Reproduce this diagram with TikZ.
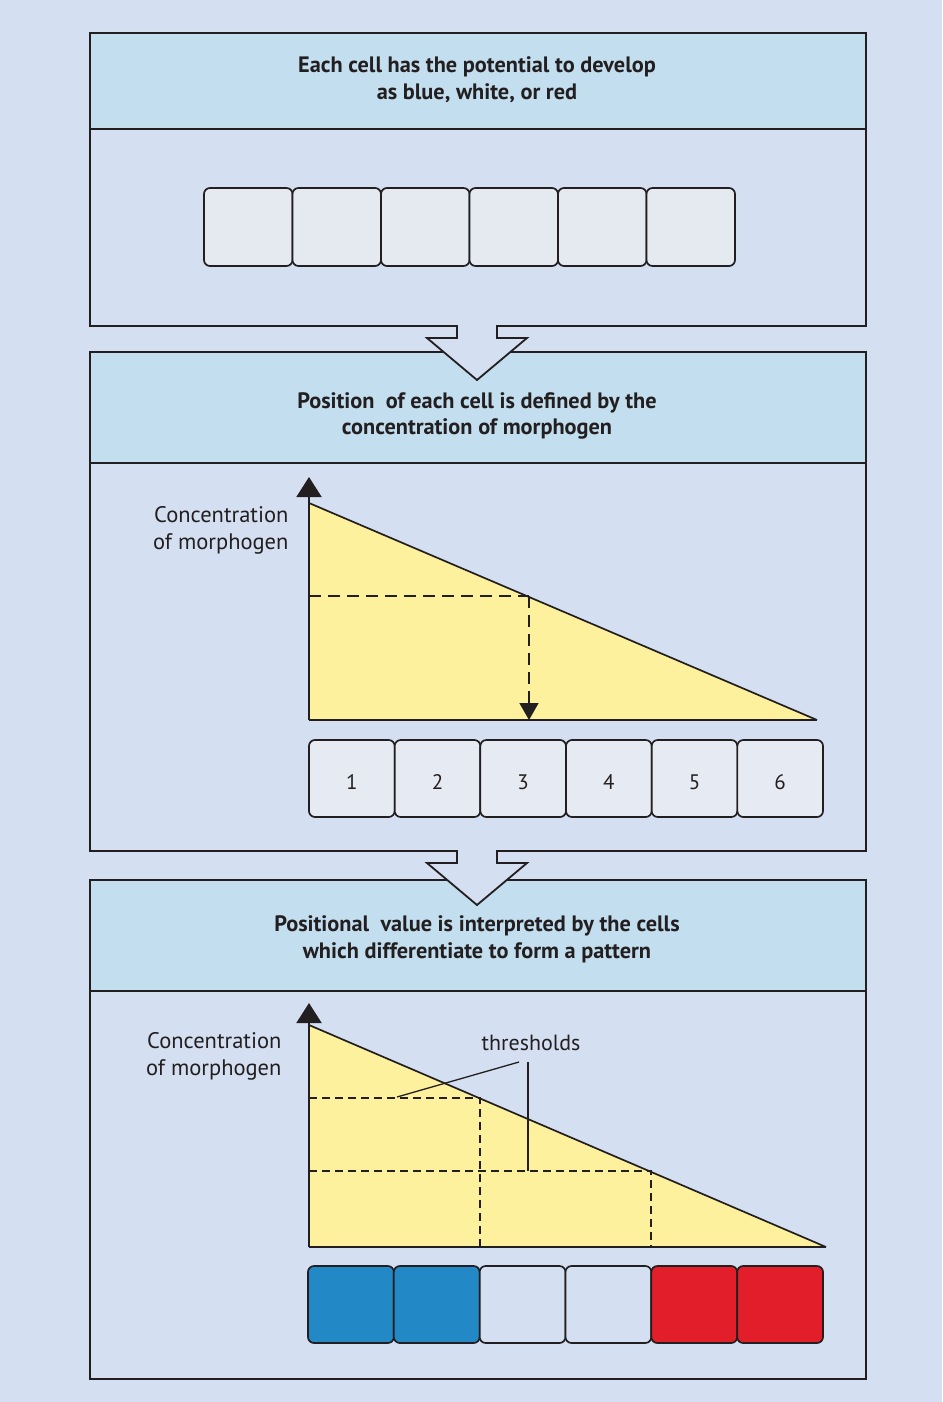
\documentclass[tikz,border=0pt]{standalone}
\usepackage{fontspec}
\setmainfont{PT Sans}
\usetikzlibrary{calc,arrows.meta}
\definecolor{bg}{RGB}{212,224,241}
\definecolor{head}{RGB}{194,222,239}
\definecolor{ink}{RGB}{35,31,32}
\definecolor{cellgray}{RGB}{228,234,239}
\definecolor{cellpale}{RGB}{230,234,242}
\definecolor{morph}{RGB}{253,241,157}
\definecolor{cblue}{RGB}{35,137,198}
\definecolor{cred}{RGB}{227,30,43}
\begin{document}
\begin{tikzpicture}[x=1pt,y=-1pt,
  panel/.style={draw=ink, line width=1.8pt, fill=bg, rectangle, anchor=north west,
    inner sep=0pt, minimum width=776pt},
  header/.style={draw=ink, line width=1.8pt, fill=head, rectangle, anchor=north west,
    inner sep=0pt, minimum width=776pt},
  headtext/.style={align=center, text=ink, font=\fontsize{22.3}{26.5}\selectfont\bfseries},
  cell/.style={draw=ink, line width=1.7pt, rounded corners=6pt, inner sep=0pt},
  numtext/.style={text=ink, font=\fontsize{21}{24}\selectfont},
  ylabel/.style={align=right, anchor=east, text=ink, font=\fontsize{22.5}{27}\selectfont},
  line/.style={draw=ink, line width=1.7pt},
  thin/.style={draw=ink, line width=1.3pt},
  axis/.style={draw=ink, line width=2pt, -{Triangle[width=25pt,length=20pt]}},
  longdash/.style={draw=ink, line width=1.5pt, dash pattern=on 12pt off 7pt},
  shortdash/.style={draw=ink, line width=1.4pt, dash pattern=on 8pt off 5pt},
  flow/.style={draw=ink, line width=1.8pt, line join=miter},
]
\fill[bg] (0,0) rectangle (942,1402);
\useasboundingbox (0,0) rectangle (942,1402);

% ---------- panel 1: undifferentiated cells ----------
\node[panel, minimum height=293pt] (p1) at (89,32) {};
\node[header, minimum height=96pt] (h1) at (89,32) {};
\node[headtext] (t1) at (477,79.5) {Each cell has the potential to develop\\as blue, white, or red};
\foreach \i in {0,...,5}
  \node[cell, fill=cellgray, minimum width=88.5pt, minimum height=78pt] (a\i) at ({248.25+88.5*\i},227) {};

% ---------- panel 2: morphogen gradient ----------
\node[panel, minimum height=499pt] (p2) at (89,351) {};
\node[header, minimum height=111pt] (h2) at (89,351) {};
\node[headtext] (t2) at (477,416) {Position~ of each cell is defined by the\\concentration of morphogen};

% block arrow from panel 1 to panel 2
\coordinate (f1a) at (457,325);
\coordinate (f1b) at (457,338);
\coordinate (f1c) at (427,338);
\coordinate (f1d) at (477,380);
\coordinate (f1e) at (527,338);
\coordinate (f1f) at (497,338);
\coordinate (f1g) at (497,325);
\fill[bg] ($(f1a)+(0,-2)$) -- (f1b) -- (f1c) -- (f1d) -- (f1e) -- (f1f) -- ($(f1g)+(0,-2)$) -- cycle;
\draw[flow] (f1a) -- (f1b) -- (f1c) -- (f1d) -- (f1e) -- (f1f) -- (f1g);

% gradient plot
\coordinate (o2) at (309,720);
\coordinate (top2) at (309,503);
\coordinate (r2) at (817,720);
\coordinate (ax2) at (309,477);
\coordinate (l2) at (309,596);
\coordinate (m2) at (529,596);
\coordinate (b2) at (529,720);
\fill[morph] (o2) -- (top2) -- (r2) -- cycle;
\draw[line] (top2) -- (r2);
\draw[line] (o2) -- (r2);
\draw[axis] (o2) -- (ax2);
\draw[longdash] (l2) -- (m2);
\draw[longdash, -{Triangle[width=19pt,length=17pt]}] (m2) -- (b2);
\node[ylabel] (y2) at (292,530.5) {Concentration\\of morphogen};

\foreach \i in {1,...,6}
  \node[cell, fill=cellpale, minimum width=85.67pt, minimum height=77pt] (n\i) at ({309+85.67*(\i-0.5)},778.5) {};
\foreach \i in {1,...,6}
  \node[numtext] (nt\i) at ($(n\i.center)+(0,4)$) {\i};

% ---------- panel 3: thresholds and pattern ----------
\node[panel, minimum height=499pt] (p3) at (89,879) {};
\node[header, minimum height=111pt] (h3) at (89,879) {};
\node[headtext] (t3) at (477,939.5) {Positional~ value is interpreted by the cells\\which differentiate to form a pattern};

% block arrow from panel 2 to panel 3
\coordinate (f2a) at (457,850);
\coordinate (f2b) at (457,863);
\coordinate (f2c) at (427,863);
\coordinate (f2d) at (477,905);
\coordinate (f2e) at (527,863);
\coordinate (f2f) at (497,863);
\coordinate (f2g) at (497,850);
\fill[bg] ($(f2a)+(0,-2)$) -- (f2b) -- (f2c) -- (f2d) -- (f2e) -- (f2f) -- ($(f2g)+(0,-2)$) -- cycle;
\draw[flow] (f2a) -- (f2b) -- (f2c) -- (f2d) -- (f2e) -- (f2f) -- (f2g);

% gradient plot with two thresholds
\coordinate (o3) at (309,1247);
\coordinate (top3) at (309,1025);
\coordinate (r3) at (826,1247);
\coordinate (ax3) at (309,1003);
\coordinate (h1l) at (309,1098);
\coordinate (h1r) at (480,1098);
\coordinate (v1b) at (480,1247);
\coordinate (h2l) at (309,1171);
\coordinate (h2r) at (651,1171);
\coordinate (v2b) at (651,1247);
\fill[morph] (o3) -- (top3) -- (r3) -- cycle;
\draw[line] (top3) -- (r3);
\draw[line] (o3) -- (r3);
\draw[axis] (o3) -- (ax3);
\draw[shortdash] (h1l) -- (h1r) -- (v1b);
\draw[shortdash] (h2l) -- (h2r) -- (v2b);
\node[ylabel] (y3) at (285,1056) {Concentration\\of morphogen};

\node[text=ink, font=\fontsize{22}{24}\selectfont] (thr) at (531,1043) {thresholds};
\coordinate (k1) at (519,1062);
\coordinate (k1e) at (397,1097);
\coordinate (k2) at (528,1062);
\coordinate (k2e) at (528,1171);
\draw[thin] (k1) -- (k1e);
\draw[thin] (k2) -- (k2e);

\foreach \i/\c in {1/cblue,2/cblue,3/bg,4/bg,5/cred,6/cred}
  \node[cell, fill=\c, minimum width=85.83pt, minimum height=77pt] (c\i) at ({308+85.83*(\i-0.5)},1304.5) {};
\end{tikzpicture}
\end{document}
